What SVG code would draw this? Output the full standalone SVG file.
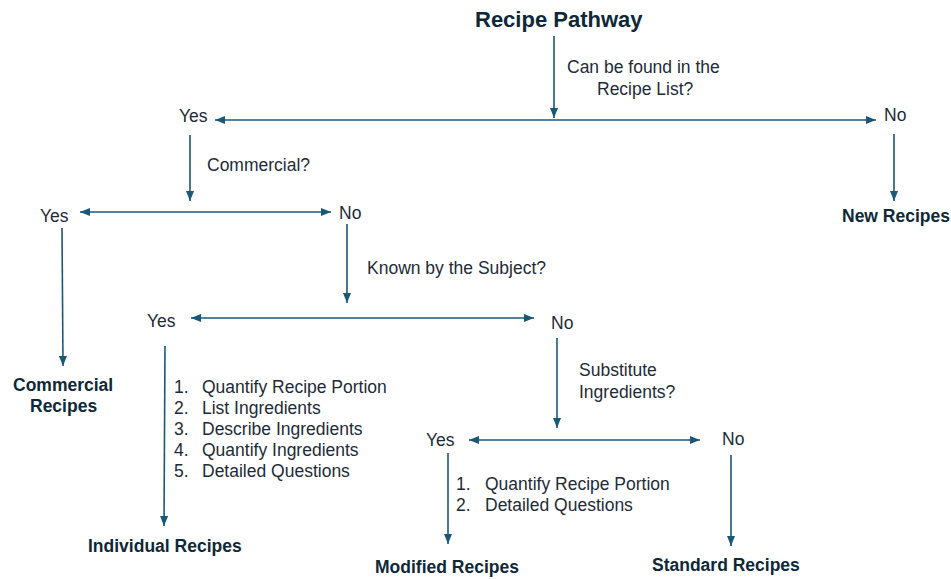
<svg xmlns="http://www.w3.org/2000/svg" width="951" height="579" viewBox="0 0 951 579">
<style>
.t{font-family:"Liberation Sans",Arial,sans-serif;font-size:17.5px;fill:#1e2b37}
.b{font-family:"Liberation Sans",Arial,sans-serif;font-size:17.5px;font-weight:bold;fill:#0e2838}
.h{font-family:"Liberation Sans",Arial,sans-serif;font-size:22px;font-weight:bold;fill:#0e2838}
.c{stroke:#1a5878;stroke-width:1.6;fill:none}
</style>
<defs>
<marker id="ah" markerWidth="10" markerHeight="8" refX="10" refY="4" orient="auto-start-reverse" markerUnits="userSpaceOnUse">
<path d="M0,0 L10,4 L0,8 Z" fill="#1a5878"/>
</marker>
</defs>
<rect width="951" height="579" fill="#ffffff"/>
<g id="connectors">
<line class="c" x1="554" y1="36" x2="554" y2="118" marker-end="url(#ah)"/>
<line class="c" x1="215" y1="120" x2="876" y2="120" marker-start="url(#ah)" marker-end="url(#ah)"/>
<line class="c" x1="190" y1="135" x2="190" y2="201" marker-end="url(#ah)"/>
<line class="c" x1="80" y1="212" x2="331" y2="212" marker-start="url(#ah)" marker-end="url(#ah)"/>
<line class="c" x1="62" y1="228" x2="63" y2="366" marker-end="url(#ah)"/>
<line class="c" x1="347" y1="224" x2="347" y2="303" marker-end="url(#ah)"/>
<line class="c" x1="191" y1="318" x2="534" y2="318" marker-start="url(#ah)" marker-end="url(#ah)"/>
<line class="c" x1="165" y1="346" x2="164" y2="526" marker-end="url(#ah)"/>
<line class="c" x1="557" y1="338" x2="557" y2="428" marker-end="url(#ah)"/>
<line class="c" x1="469" y1="440" x2="700" y2="440" marker-start="url(#ah)" marker-end="url(#ah)"/>
<line class="c" x1="448" y1="453" x2="448" y2="544" marker-end="url(#ah)"/>
<line class="c" x1="731" y1="455" x2="731" y2="546" marker-end="url(#ah)"/>
<line class="c" x1="894" y1="134" x2="894" y2="201" marker-end="url(#ah)"/>
</g>
<g id="title"><text class="h" x="475" y="27">Recipe Pathway</text></g>
<g id="q1"><text class="t" x="567" y="73">Can be found in the</text><text class="t" x="597" y="95">Recipe List?</text></g>
<g id="yes1"><text class="t" x="179" y="122">Yes</text></g>
<g id="no1"><text class="t" x="884" y="121">No</text></g>
<g id="q2"><text class="t" x="207" y="171">Commercial?</text></g>
<g id="yes2"><text class="t" x="40" y="222">Yes</text></g>
<g id="no2"><text class="t" x="339" y="219">No</text></g>
<g id="commercial"><text class="b" x="13" y="391">Commercial</text><text class="b" x="30" y="412">Recipes</text></g>
<g id="newrecipes"><text class="b" x="842" y="222">New Recipes</text></g>
<g id="q3"><text class="t" x="367" y="274">Known  by the Subject?</text></g>
<g id="yes3"><text class="t" x="147" y="327">Yes</text></g>
<g id="no3"><text class="t" x="551" y="329">No</text></g>
<g id="list1">
<text class="t" x="174" y="393">1.</text><text class="t" x="202" y="393">Quantify Recipe Portion</text>
<text class="t" x="174" y="414">2.</text><text class="t" x="202" y="414">List Ingredients</text>
<text class="t" x="174" y="435">3.</text><text class="t" x="202" y="435">Describe Ingredients</text>
<text class="t" x="174" y="456">4.</text><text class="t" x="202" y="456">Quantify Ingredients</text>
<text class="t" x="174" y="477">5.</text><text class="t" x="202" y="477">Detailed Questions</text>
</g>
<g id="individual"><text class="b" x="88" y="552">Individual Recipes</text></g>
<g id="q4"><text class="t" x="579" y="376">Substitute</text><text class="t" x="579" y="398">Ingredients?</text></g>
<g id="yes4"><text class="t" x="426" y="446">Yes</text></g>
<g id="no4"><text class="t" x="722" y="445">No</text></g>
<g id="list2">
<text class="t" x="456" y="490">1.</text><text class="t" x="485" y="490">Quantify Recipe Portion</text>
<text class="t" x="456" y="511">2.</text><text class="t" x="485" y="511">Detailed Questions</text>
</g>
<g id="modified"><text class="b" x="375" y="573">Modified Recipes</text></g>
<g id="standard"><text class="b" x="652" y="571">Standard Recipes</text></g>
</svg>
